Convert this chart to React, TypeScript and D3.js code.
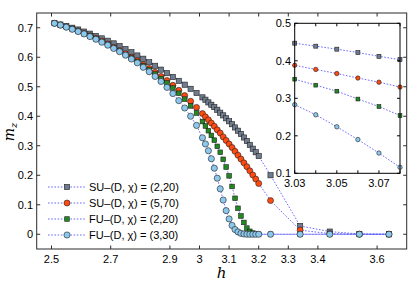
import React from "react";
import * as d3 from "d3";

// h grid shared by all four runs
const hValues = [
  2.51, 2.53, 2.55, 2.57, 2.59, 2.61, 2.63, 2.65, 2.67, 2.69, 2.71, 2.73, 2.75,
  2.77, 2.79, 2.81, 2.83, 2.85, 2.87, 2.89, 2.91, 2.93, 2.95, 2.97, 2.99,
  3.01, 3.02, 3.03, 3.04, 3.05, 3.06, 3.07, 3.08, 3.09, 3.1, 3.11, 3.12, 3.13,
  3.14, 3.15, 3.16, 3.17, 3.18, 3.19, 3.2,
  3.24, 3.34, 3.44, 3.54, 3.64,
];

const suD2 = [
  0.716, 0.711, 0.706, 0.7, 0.694, 0.687, 0.68, 0.672, 0.664, 0.656, 0.647, 0.638, 0.628,
  0.617, 0.606, 0.595, 0.583, 0.571, 0.558, 0.546, 0.533, 0.52, 0.507, 0.493, 0.479,
  0.464, 0.456, 0.447, 0.439, 0.431, 0.422, 0.412, 0.403, 0.393, 0.383, 0.373, 0.362, 0.351,
  0.34, 0.328, 0.316, 0.303, 0.29, 0.278, 0.265,
  0.2, 0.028, 0.009, 0.001, 0.0,
];

const suD5 = [
  0.715, 0.709, 0.703, 0.696, 0.689, 0.681, 0.673, 0.664, 0.655, 0.645, 0.634, 0.623, 0.612,
  0.6, 0.588, 0.575, 0.562, 0.549, 0.535, 0.521, 0.505, 0.488, 0.47, 0.451, 0.43,
  0.409, 0.398, 0.388, 0.377, 0.366, 0.354, 0.343, 0.33, 0.318, 0.306, 0.294, 0.281, 0.268,
  0.255, 0.242, 0.229, 0.215, 0.201, 0.187, 0.172,
  0.114, 0.014, 0.002, 0.0, 0.0,
];

const fuD2 = [
  0.715, 0.709, 0.703, 0.696, 0.688, 0.68, 0.672, 0.663, 0.653, 0.643, 0.632, 0.621, 0.609,
  0.597, 0.584, 0.571, 0.557, 0.543, 0.528, 0.513, 0.496, 0.478, 0.458, 0.435, 0.411,
  0.382, 0.367, 0.351, 0.335, 0.319, 0.298, 0.278, 0.254, 0.228, 0.198, 0.162, 0.122, 0.088,
  0.062, 0.04, 0.021, 0.01, 0.004, 0.001, 0.0,
  0.0, 0.0, 0.0, 0.0, 0.0,
];

const fuD3 = [
  0.715, 0.709, 0.702, 0.695, 0.687, 0.679, 0.67, 0.661, 0.651, 0.641, 0.63, 0.619, 0.607,
  0.594, 0.581, 0.566, 0.551, 0.535, 0.518, 0.498, 0.477, 0.453, 0.428, 0.4, 0.369,
  0.327, 0.306, 0.283, 0.256, 0.224, 0.19, 0.154, 0.116, 0.08, 0.052, 0.03, 0.016, 0.008,
  0.003, 0.001, 0.0, 0.0, 0.0, 0.0, 0.0,
  0.0, 0.0, 0.0, 0.0, 0.0,
];

const seriesLabels = [
  "SU–(D, χ) = (2,20)",
  "SU–(D, χ) = (5,70)",
  "FU–(D, χ) = (2,20)",
  "FU–(D, χ) = (3,30)",
];

const xTicks = [2.5, 2.7, 2.9, 3, 3.1, 3.2, 3.3, 3.4, 3.6];
const yTicks = [0, 0.1, 0.2, 0.3, 0.4, 0.5, 0.6, 0.7];
const insetXTicks = [3.03, 3.04, 3.05, 3.06, 3.07, 3.08];
const insetXLabels = [3.03, 3.05, 3.07];
const insetYTicks = [0.1, 0.2, 0.3, 0.4, 0.5];

const styles = [
  { shape: "square", fill: "#6f7c8e", size: 5.2, insetSize: 4 },
  { shape: "circle", fill: "#ff4a10", size: 6, insetSize: 4.4 },
  { shape: "square", fill: "#208a20", size: 4.6, insetSize: 3.8 },
  { shape: "circle", fill: "#8cc8ec", size: 6.2, insetSize: 4.4 },
];

const allValues = [suD2, suD5, fuD2, fuD3];

const W = 415;
const H = 284;
const AX = "#2b2b2b";
const LINE = "#4646ff";
const FONT = "'Liberation Sans', Arial, sans-serif";
const SERIF = "'DejaVu Serif', 'Liberation Serif', serif";

function Marker({ shape, x, y, size, fill }) {
  if (shape === "square") {
    return (
      <rect x={x - size / 2} y={y - size / 2} width={size} height={size}
        fill={fill} stroke="#1e1e1e" strokeWidth={0.6} />
    );
  }
  return <circle cx={x} cy={y} r={size / 2} fill={fill} stroke="#1e1e1e" strokeWidth={0.6} />;
}

export default function App() {
  const x = d3.scaleLinear().domain([2.45, 3.7]).range([36.7, 406.7]);
  const y = d3.scaleLinear().domain([-0.05, 0.75]).range([249, 13]);

  const ix = d3.scaleLinear().domain([3.03, 3.08]).range([294.7, 400]);
  const iy = d3.scaleLinear().domain([0.1, 0.5]).range([173.3, 23.3]);

  const series = allValues.map((vals, i) => ({
    label: seriesLabels[i],
    ...styles[i],
    points: hValues.map((h, j) => ({ h, m: vals[j] })),
  }));

  const line = d3.line().x((d) => x(d.h)).y((d) => y(d.m));
  const insetLine = d3.line().x((d) => ix(d.h)).y((d) => iy(d.m));

  const [x0, x1] = x.range();
  const [y1, y0] = y.range();
  const [ix0, ix1] = ix.range();
  const [iy1, iy0] = iy.range();
  const tk = 3.5;

  const legendRows = [187, 203, 219, 235];

  return (
    <svg width={W} height={H} style={{ position: "absolute", left: 0, top: 0, background: "#fff" }}>
      <defs>
        <clipPath id="insetClip">
          <rect x={ix0} y={iy0} width={ix1 - ix0} height={iy1 - iy0} />
        </clipPath>
      </defs>
      <rect width={W} height={H} fill="#fff" />

      {/* main series */}
      {series.map((s, i) => (
        <g key={i}>
          <path d={line(s.points)} fill="none" stroke={LINE} strokeWidth={0.8} strokeDasharray="1.6 1.6" />
          {s.points.map((p, j) => (
            <Marker key={j} shape={s.shape} x={x(p.h)} y={y(p.m)} size={s.size} fill={s.fill} />
          ))}
        </g>
      ))}

      {/* main frame and ticks */}
      <rect x={x0} y={y0} width={x1 - x0} height={y1 - y0} fill="none" stroke={AX} strokeWidth={1} />
      {xTicks.map((t) => (
        <g key={t}>
          <line x1={x(t)} x2={x(t)} y1={y1} y2={y1 - tk} stroke={AX} />
          <line x1={x(t)} x2={x(t)} y1={y0} y2={y0 + tk} stroke={AX} />
          <text x={x(t)} y={263} textAnchor="middle" fontFamily={FONT} fontSize={11}>{t}</text>
        </g>
      ))}
      {yTicks.map((t) => (
        <g key={t}>
          <line x1={x0} x2={x0 + tk} y1={y(t)} y2={y(t)} stroke={AX} />
          <line x1={x1} x2={x1 - tk} y1={y(t)} y2={y(t)} stroke={AX} />
          <text x={33} y={y(t) + 4} textAnchor="end" fontFamily={FONT} fontSize={11}>{t}</text>
        </g>
      ))}

      {/* axis labels */}
      <text x={221.7} y={278} textAnchor="middle" fontFamily={SERIF} fontStyle="italic" fontSize={15}>h</text>
      <text transform="translate(14,132) rotate(-90)" textAnchor="middle" fontFamily={SERIF} fontStyle="italic" fontSize={14}>
        m<tspan dy={3} fontSize={10}>z</tspan>
      </text>

      {/* legend */}
      {series.map((s, i) => (
        <g key={i}>
          <line x1={48} x2={86} y1={legendRows[i]} y2={legendRows[i]} stroke={LINE} strokeWidth={0.8} strokeDasharray="1.6 1.6" />
          <Marker shape={s.shape} x={67} y={legendRows[i]} size={s.size} fill={s.fill} />
          <text x={89} y={legendRows[i] + 4} fontFamily={FONT} fontSize={11}>{s.label}</text>
        </g>
      ))}

      {/* inset */}
      <rect x={ix0} y={iy0} width={ix1 - ix0} height={iy1 - iy0} fill="#fff" />
      <g clipPath="url(#insetClip)">
        {series.map((s, i) => {
          const pts = s.points.filter((p) => p.h >= 3.02 && p.h <= 3.09);
          return (
            <path key={i} d={insetLine(pts)} fill="none" stroke={LINE} strokeWidth={0.8} strokeDasharray="1.6 1.6" />
          );
        })}
      </g>
      {series.map((s, i) => (
        <g key={i}>
          {s.points
            .filter((p) => p.h >= 3.03 - 1e-9 && p.h <= 3.08 + 1e-9)
            .map((p, j) => (
              <Marker key={j} shape={s.shape} x={ix(p.h)} y={iy(p.m)} size={s.insetSize} fill={s.fill} />
            ))}
        </g>
      ))}
      <rect x={ix0} y={iy0} width={ix1 - ix0} height={iy1 - iy0} fill="none" stroke="#000" strokeWidth={1} />
      {insetXTicks.map((t) => (
        <g key={t}>
          <line x1={ix(t)} x2={ix(t)} y1={iy1} y2={iy1 - 3} stroke="#000" />
          <line x1={ix(t)} x2={ix(t)} y1={iy0} y2={iy0 + 3} stroke="#000" />
        </g>
      ))}
      {insetXLabels.map((t) => (
        <text key={t} x={ix(t)} y={187} textAnchor="middle" fontFamily={FONT} fontSize={11}>{t.toFixed(2)}</text>
      ))}
      {insetYTicks.map((t) => (
        <g key={t}>
          <line x1={ix0} x2={ix0 + 3} y1={iy(t)} y2={iy(t)} stroke="#000" />
          <line x1={ix1} x2={ix1 - 3} y1={iy(t)} y2={iy(t)} stroke="#000" />
          <text x={291} y={iy(t) + 4} textAnchor="end" fontFamily={FONT} fontSize={11}>{t}</text>
        </g>
      ))}
    </svg>
  );
}
